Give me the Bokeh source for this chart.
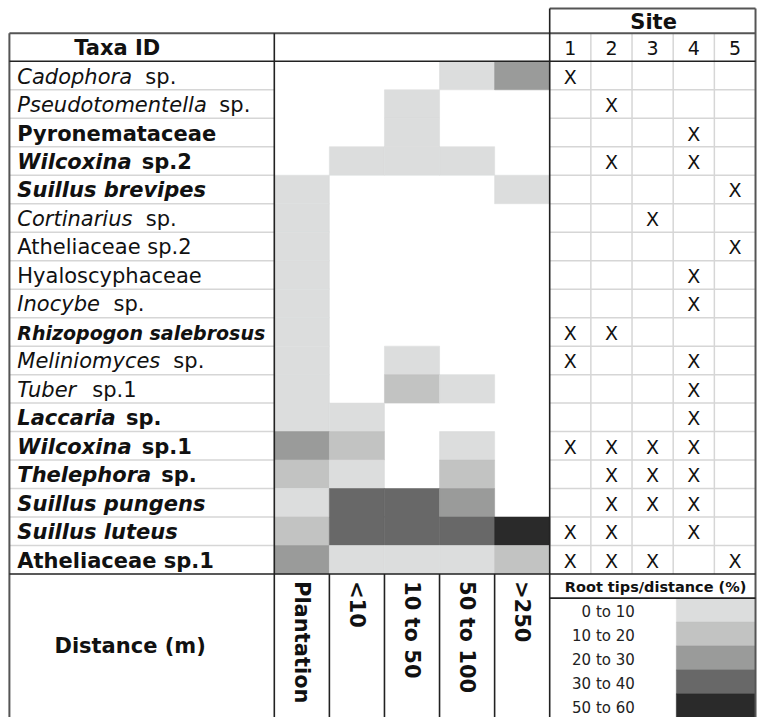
import math
from bokeh.plotting import figure
from bokeh.models import Range1d
from bokeh.embed import file_html
from bokeh.resources import INLINE
from bokeh.core.properties import value

# ---------------- data ----------------
genus = ["Cadophora", "Pseudotomentella", "Pyronemataceae", "Wilcoxina",
         "Suillus brevipes", "Cortinarius", "Atheliaceae sp.2", "Hyaloscyphaceae",
         "Inocybe", "Rhizopogon salebrosus", "Meliniomyces", "Tuber", "Laccaria",
         "Wilcoxina", "Thelephora", "Suillus pungens", "Suillus luteus",
         "Atheliaceae sp.1"]
suffix = ["sp.", "sp.", "", "sp.2", "", "sp.", "", "", "sp.", "", "sp.", "sp.1",
          "sp.", "sp.1", "sp.", "", "", ""]
genus_style = ["italic", "italic", "bold", "bold italic", "bold italic", "italic",
               "normal", "normal", "italic", "bold italic", "italic", "italic",
               "bold italic", "bold italic", "bold italic", "bold italic",
               "bold italic", "bold"]

distances = ["Plantation", "<10", "10 to 50", "50 to 100", ">250"]

# abundance class per taxon and distance (0 = absent, 1..5 = legend classes)
abundance = [
    [0, 0, 0, 1, 3],
    [0, 0, 1, 0, 0],
    [0, 0, 1, 0, 0],
    [0, 1, 1, 1, 0],
    [1, 0, 0, 0, 1],
    [1, 0, 0, 0, 0],
    [1, 0, 0, 0, 0],
    [1, 0, 0, 0, 0],
    [1, 0, 0, 0, 0],
    [1, 0, 0, 0, 0],
    [1, 0, 1, 0, 0],
    [1, 0, 2, 1, 0],
    [1, 1, 0, 0, 0],
    [3, 2, 0, 1, 0],
    [2, 1, 0, 2, 0],
    [1, 4, 4, 3, 0],
    [2, 4, 4, 4, 5],
    [3, 1, 1, 1, 2],
]

site_names = ["1", "2", "3", "4", "5"]
sites = [
    [1], [2], [4], [2, 4], [5], [3], [5], [4], [4], [1, 2], [1, 4], [4], [4],
    [1, 2, 3, 4], [2, 3, 4], [2, 3, 4], [1, 2, 4], [1, 2, 3, 5],
]

legend_labels = ["0 to 10", "10 to 20", "20 to 30", "30 to 40", "50 to 60"]
legend_colors = ["#dcdddd", "#c2c3c2", "#9a9b9a", "#686868", "#2a2a2a"]

# ---------------- layout ----------------
FONT = "DejaVu Sans"
LEFT, RIGHT = 9, 763
TOP_SITE, TOP = 8, 33
HEAD_BOT = 61.5
ROW_H = 28.8
NROW = len(genus)
ROWS_BOT = HEAD_BOT + NROW * ROW_H
BOTTOM = 725
HM_X0, HM_X1 = 276.7, 555
HM_W = (HM_X1 - HM_X0) / len(distances)
ST_X0, ST_X1 = 555, 763
ST_W = (ST_X1 - ST_X0) / len(site_names)
LEG_HEAD = 604.3
LEG_H = 24.2
LEG_SW_X0 = 683
LABEL_X = 17
TAXA_SIZE = 21

# DejaVu Sans advance widths (units of 1/2048 em) for placing the suffix
W_REG = {"C": 1430, "a": 1255, "d": 1300, "o": 1253, "p": 1300, "h": 1298, "r": 842,
         "P": 1235, "s": 1067, "e": 1260, "u": 1298, "t": 803, "m": 1995, "n": 1298,
         "l": 569, "i": 569, "I": 604, "c": 1126, "y": 1212, "b": 1300, "M": 1767,
         "T": 1251}
W_BOLD = {"W": 2110, "i": 702, "l": 702, "c": 1212, "o": 1407, "x": 1458, "n": 1458,
          "a": 1382, "L": 1305, "r": 1010, "T": 1397, "h": 1458, "e": 1389, "p": 1466}


def text_w(s, bold, size):
    tbl = W_BOLD if bold else W_REG
    return sum(tbl.get(ch, 1250) for ch in s) / 2048.0 * size


def row_c(i):
    return HEAD_BOT + (i + 0.5) * ROW_H


p = figure(width=757, height=717, x_range=Range1d(0, 765), y_range=Range1d(725, 0),
           output_backend="svg", toolbar_location=None, x_axis_type=None,
           y_axis_type=None, min_border=0, outline_line_color=None,
           background_fill_color="white", border_fill_color="white")
p.grid.visible = False

# ---------------- heatmap cells ----------------
cl, cr, ct, cb, cc = [], [], [], [], []
for i, row in enumerate(abundance):
    for j, v in enumerate(row):
        if v > 0:
            cl.append(HM_X0 + j * HM_W)
            cr.append(HM_X0 + (j + 1) * HM_W)
            ct.append(HEAD_BOT + i * ROW_H)
            cb.append(HEAD_BOT + (i + 1) * ROW_H)
            cc.append(legend_colors[v - 1])
p.quad(left=cl, right=cr, top=ct, bottom=cb, fill_color=cc, line_color=cc,
       line_width=0.6)

# ---------------- light grid lines ----------------
gx0, gx1, gy0, gy1 = [], [], [], []
for k in range(1, NROW):
    y = HEAD_BOT + k * ROW_H
    gx0 += [LEFT, ST_X0]
    gx1 += [HM_X0, ST_X1]
    gy0 += [y, y]
    gy1 += [y, y]
for k in range(1, len(site_names)):
    x = ST_X0 + k * ST_W
    gx0.append(x); gx1.append(x); gy0.append(TOP); gy1.append(ROWS_BOT)
p.segment(x0=gx0, y0=gy0, x1=gx1, y1=gy1, line_color="#d6d6d6", line_width=1.5)

# ---------------- legend swatches ----------------
p.quad(left=[LEG_SW_X0] * 5, right=[ST_X1] * 5,
       top=[LEG_HEAD + k * LEG_H for k in range(5)],
       bottom=[LEG_HEAD + (k + 1) * LEG_H for k in range(5)],
       fill_color=legend_colors, line_color=legend_colors, line_width=0.6)

# ---------------- outer border (grey) ----------------
ox0 = [LEFT, ST_X0, ST_X1, LEFT]
ox1 = [ST_X1, ST_X1, ST_X1, LEFT]
oy0 = [TOP, TOP_SITE, TOP_SITE, TOP]
oy1 = [TOP, TOP_SITE, BOTTOM, BOTTOM]
p.segment(x0=ox0, y0=oy0, x1=ox1, y1=oy1, line_color="#555555", line_width=2)

# ---------------- dark inner lines ----------------
dx0 = [LEFT, LEFT, HM_X0, ST_X0, ST_X0]
dx1 = [ST_X1, ST_X1, HM_X0, ST_X0, ST_X1]
dy0 = [HEAD_BOT, ROWS_BOT, TOP, TOP_SITE, LEG_HEAD]
dy1 = [HEAD_BOT, ROWS_BOT, BOTTOM, BOTTOM, LEG_HEAD]
for j in range(1, len(distances)):
    x = HM_X0 + j * HM_W
    dx0.append(x); dx1.append(x); dy0.append(ROWS_BOT); dy1.append(BOTTOM)
p.segment(x0=dx0, y0=dy0, x1=dx1, y1=dy1, line_color="#222222", line_width=1.6)

# ---------------- taxa labels ----------------
for i, g in enumerate(genus):
    st = genus_style[i]
    size = 19 if g == "Rhizopogon salebrosus" else TAXA_SIZE
    p.text(x=[LABEL_X], y=[row_c(i) + 1], text=[g], text_font=value(FONT),
           text_font_size=f"{size}px", text_font_style=st, text_align="left",
           text_baseline="middle", text_color="#111111")
    if suffix[i]:
        bold = "bold" in st
        gap = (0.55 if bold else 0.7) * size
        sx = LABEL_X + text_w(g, bold, size) + gap
        p.text(x=[sx], y=[row_c(i) + 1], text=[suffix[i]], text_font=value(FONT),
               text_font_size=f"{size}px",
               text_font_style="bold" if bold else "normal",
               text_align="left", text_baseline="middle", text_color="#111111")

# headers
p.text(x=[118], y=[(TOP + HEAD_BOT) / 2 + 1], text=["Taxa ID"], text_font=value(FONT),
       text_font_size="21px", text_font_style="bold", text_align="center",
       text_baseline="middle", text_color="#111111")
p.text(x=[(ST_X0 + ST_X1) / 2 + 1], y=[(TOP_SITE + TOP) / 2 + 1], text=["Site"],
       text_font=value(FONT), text_font_size="21px", text_font_style="bold",
       text_align="center", text_baseline="middle", text_color="#111111")
p.text(x=[ST_X0 + (k + 0.5) * ST_W for k in range(5)],
       y=[(TOP + HEAD_BOT) / 2 + 1] * 5, text=site_names, text_font=value(FONT),
       text_font_size="19px", text_align="center", text_baseline="middle",
       text_color="#111111")

# site presence marks
mx, my = [], []
for i, ss in enumerate(sites):
    for s in ss:
        mx.append(ST_X0 + (s - 0.5) * ST_W)
        my.append(row_c(i) + 1)
p.text(x=mx, y=my, text=["X"] * len(mx), text_font=value(FONT),
       text_font_size="19px", text_align="center", text_baseline="middle",
       text_color="#111111")

# bottom section
p.text(x=[131], y=[653], text=["Distance (m)"], text_font=value(FONT),
       text_font_size="21px", text_font_style="bold", text_align="center",
       text_baseline="middle", text_color="#111111")
p.text(x=[HM_X0 + (j + 0.5) * HM_W for j in range(len(distances))],
       y=[587] * len(distances), text=distances, angle=-math.pi / 2,
       text_font=value(FONT), text_font_size="21px", text_font_style="bold",
       text_align="left", text_baseline="middle", text_color="#111111")

# legend texts
p.text(x=[(ST_X0 + ST_X1) / 2 + 3], y=[(ROWS_BOT + LEG_HEAD) / 2 + 1],
       text=["Root tips/distance (%)"], text_font=value(FONT),
       text_font_size="14.5px", text_font_style="bold", text_align="center",
       text_baseline="middle", text_color="#111111")
p.text(x=[641] * 5, y=[LEG_HEAD + (k + 0.5) * LEG_H + 2 for k in range(5)],
       text=legend_labels, text_font=value(FONT), text_font_size="15px",
       text_align="right", text_baseline="middle", text_color="#222222")

open("out.html", "w").write(file_html(p, INLINE))
